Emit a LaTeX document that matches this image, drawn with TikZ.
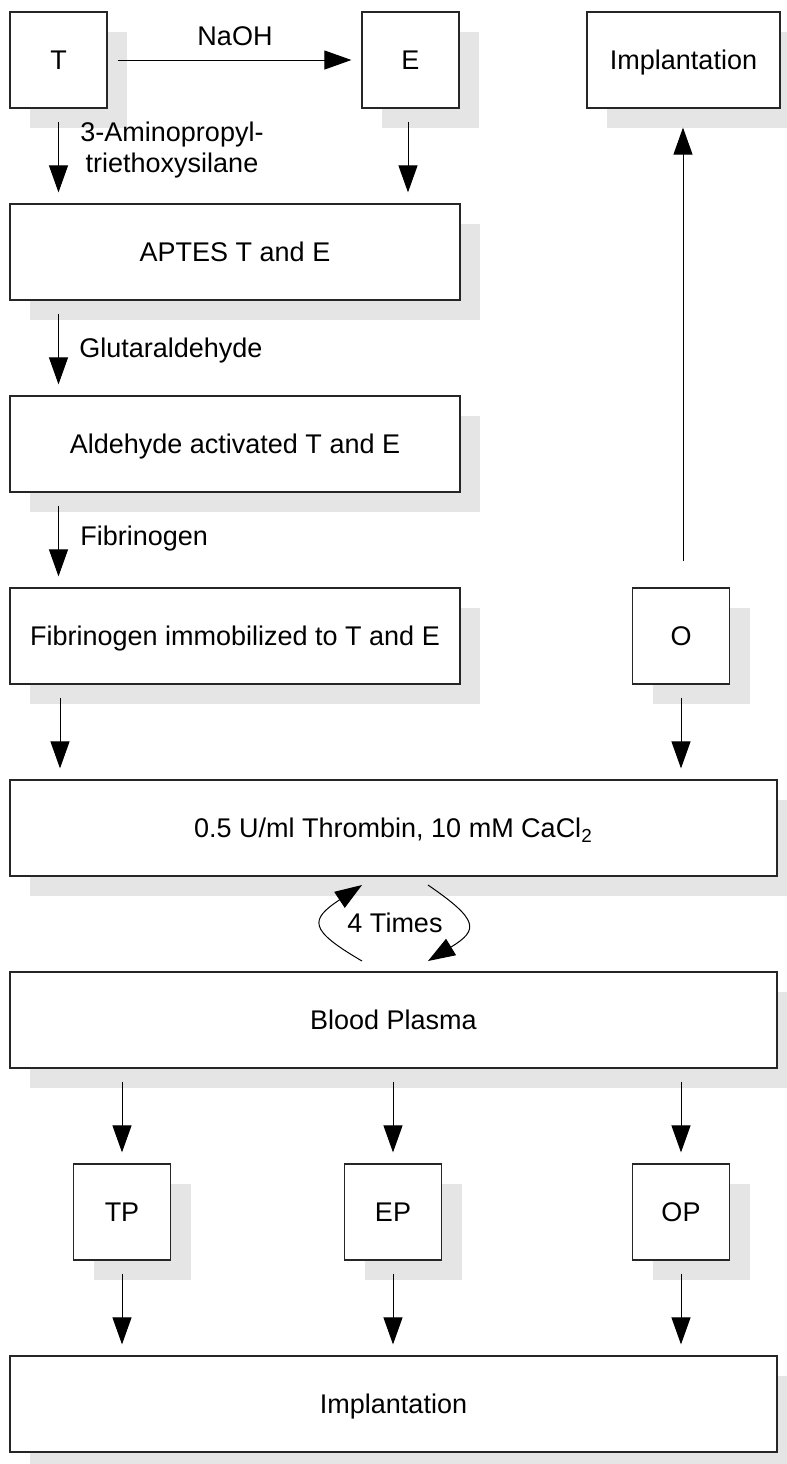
\documentclass[tikz,border=0pt]{standalone}
\usepackage{fontspec}
\setmainfont{Liberation Sans}
\usetikzlibrary{arrows.meta,shadows}
\begin{document}
\begin{tikzpicture}[x=0.5pt,y=-0.5pt,
  font=\fontsize{13.5}{15.5}\selectfont,
  box/.style={draw=black!85, line width=0.6pt, fill=white, inner sep=0pt,
    minimum height=48pt, text height=9.7pt, text depth=0pt,
    drop shadow={shadow xshift=10pt, shadow yshift=-10pt, fill=black!10, opacity=1}},
  smallbox/.style={box, minimum width=48.5pt},
  midbox/.style={box, minimum width=225pt},
  fullbox/.style={box, minimum width=383.5pt},
  arr/.style={line width=0.5pt, -{Triangle[length=13.5pt,width=9.5pt]},
    shorten <=6.5pt, shorten >=5.5pt},
  lbl/.style={inner sep=0pt}]
\useasboundingbox (0,0) rectangle (787,1464);
% boxes
\node[smallbox] (T) at (58.5,60) {T};
\node[smallbox] (E) at (410.5,60) {E};
\node[box, minimum width=96.5pt] (I1) at (683.5,60) {Implantation};
\node[midbox] (A) at (235,252) {APTES T and E};
\node[midbox] (Al) at (235,444) {Aldehyde activated T and E};
\node[midbox] (F) at (235,636) {Fibrinogen immobilized to T and E};
\node[smallbox] (O) at (681,636) {O};
\node[fullbox] (Th) at (393.5,828) {0.5 U/ml Thrombin, 10 mM CaCl\textsubscript{2}};
\node[fullbox] (B) at (393.5,1020) {Blood Plasma};
\node[smallbox] (TP) at (122,1212) {TP};
\node[smallbox] (EP) at (393,1212) {EP};
\node[smallbox] (OP) at (681,1212) {OP};
\node[fullbox] (I2) at (393.5,1404) {Implantation};
% labels
\node[lbl, anchor=base] (naoh) at (235,45) {NaOH};
\node[lbl, anchor=north, align=center] (apt) at (172,122) {3-Aminopropyl-\\triethoxysilane};
\node[lbl, anchor=base west] (glu) at (79,357) {Glutaraldehyde};
\node[lbl, anchor=base west] (fib) at (80,545) {Fibrinogen};
\node[lbl, anchor=base] (four) at (395,932) {4 Times};
% connectors
\draw[arr, shorten <=5pt, shorten >=5pt] (T.east) -- (E.west);
\draw[arr] (T.south) -- (T.south |- A.north);
\draw[arr] (E.south -| 408,0) -- (A.north -| 408,0);
\draw[arr] (T.south |- A.south) -- (T.south |- Al.north);
\draw[arr] (T.south |- Al.south) -- (T.south |- F.north);
\draw[arr] (60,0 |- F.south) -- (60,0 |- Th.north);
\draw[arr] (O.south) -- (O.south |- Th.north);
\draw[arr, shorten <=13pt, shorten >=9.5pt] (683,0 |- O.north) -- (683,0 |- I1.south);
\draw[arr] (TP.north |- B.south) -- (TP.north);
\draw[arr] (EP.north |- B.south) -- (EP.north);
\draw[arr] (OP.north |- B.south) -- (OP.north);
\draw[arr] (TP.south) -- (TP.south |- I2.north);
\draw[arr] (EP.south) -- (EP.south |- I2.north);
\draw[arr] (OP.south) -- (OP.south |- I2.north);
% loop
\coordinate (la) at (362,961);
\coordinate (lb) at (362,885);
\coordinate (ra) at (428,885);
\coordinate (rb) at (428,961);
\draw[arr, shorten <=0pt, shorten >=0pt] (la) .. controls (309,930) and (309,920) .. (lb);
\draw[arr, shorten <=0pt, shorten >=0pt] (ra) .. controls (479,920) and (479,930) .. (rb);
\end{tikzpicture}
\end{document}
